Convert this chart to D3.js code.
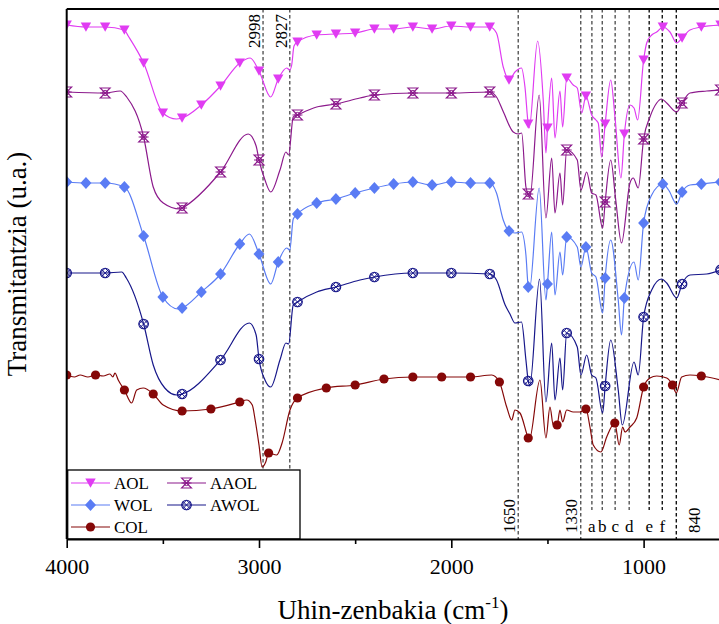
<!DOCTYPE html>
<html>
<head>
<meta charset="utf-8">
<script src="https://cdn.jsdelivr.net/npm/d3@7"></script>
<style>
  body { margin: 0; background: #fff; }
  svg { display: block; }
  svg text { font-family: "Liberation Serif", "Times New Roman", "DejaVu Serif", serif; fill: #000; }
</style>
</head>
<body>
<svg id="chart"></svg>
<script>
// FTIR spectra, [wavenumber (cm-1), transmittance (u.a., offset per sample)]
const aol = [[4000,514],[3900,512],[3800,512],[3700,509],[3680,503],[3600,476],[3500,426],[3430,420],[3400,421],[3300,434],[3200,453],[3100,476],[3046,481],[3000,468],[2939,442],[2900,460],[2856,471],[2840,469],[2830,474],[2818,493],[2800,497],[2700,504],[2600,505],[2500,506],[2400,510],[2300,510],[2200,512],[2100,510],[2000,513],[1900,512],[1800,512],[1765,506],[1730,472],[1700,459],[1669,467],[1635,471],[1617,452],[1600,415],[1595,411],[1551,498],[1522,439],[1508,386],[1500,411],[1478,461],[1461,401],[1435,448],[1421,412],[1400,461],[1366,454],[1345,451],[1322,426],[1300,443],[1270,424],[1248,419],[1236,416],[1218,382],[1200,415],[1171,459],[1149,422],[1118,361],[1100,405],[1071,434],[1050,431],[1031,419],[1000,479],[984,496],[958,504],[932,507],[900,512],[863,507],[828,496],[800,501],[759,509],[700,512],[600,514]];

const aaol = [[4000,447],[3800,446],[3722,448],[3688,442],[3600,402],[3550,352],[3498,336],[3411,330],[3400,331],[3200,367],[3056,405],[3015,393],[3000,379],[2969,359],[2939,347],[2891,369],[2860,387],[2846,384],[2822,422],[2800,424],[2700,432],[2600,435],[2475,441],[2400,444],[2200,446],[2000,446],[1800,447],[1765,442],[1729,427],[1678,407],[1652,405],[1634,406],[1612,352],[1600,345],[1592,341],[1543,444],[1508,321],[1478,381],[1461,326],[1435,366],[1421,334],[1400,389],[1345,379],[1326,349],[1296,367],[1270,346],[1248,344],[1213,311],[1200,337],[1171,379],[1145,339],[1115,296],[1071,356],[1054,361],[1028,351],[1000,400],[967,422],[932,436],[907,440],[880,436],[828,427],[800,436],[759,446],[672,448],[600,449]];

const wol = [[4000,357],[3900,356],[3800,356],[3700,352],[3600,303],[3500,242],[3420,230],[3400,231],[3300,247],[3200,265],[3100,295],[3050,305],[3000,285],[2939,255],[2900,277],[2856,291],[2840,289],[2822,320],[2800,325],[2700,336],[2600,340],[2500,346],[2400,351],[2300,355],[2200,357],[2100,354],[2000,357],[1900,356],[1800,356],[1765,346],[1730,319],[1700,308],[1669,306],[1635,307],[1612,284],[1600,252],[1594,249],[1543,351],[1508,239],[1500,255],[1478,307],[1461,244],[1435,287],[1421,264],[1400,302],[1345,292],[1326,272],[1300,292],[1270,266],[1248,262],[1213,226],[1200,261],[1171,299],[1132,239],[1115,204],[1100,241],[1050,277],[1028,259],[1000,316],[958,344],[900,355],[870,349],[828,335],[800,347],[759,354],[700,355],[600,357]];

const awol = [[4000,266],[3800,266],[3714,267],[3690,261],[3600,215],[3550,174],[3490,151],[3428,144],[3400,145],[3200,179],[3050,216],[3015,204],[3000,180],[2969,159],[2939,152],[2891,179],[2860,196],[2846,195],[2822,234],[2800,237],[2700,247],[2600,252],[2475,259],[2400,262],[2200,266],[2000,266],[1800,265],[1765,259],[1720,234],[1695,225],[1669,216],[1635,217],[1612,179],[1600,158],[1592,153],[1541,260],[1508,137],[1478,196],[1461,139],[1435,181],[1421,149],[1400,206],[1345,192],[1326,164],[1296,184],[1270,164],[1248,161],[1213,126],[1200,153],[1171,199],[1132,149],[1111,114],[1050,177],[1028,164],[1000,222],[958,249],[907,260],[880,256],[828,241],[800,255],[759,264],[672,265],[600,269]];

const col = [[4000,164],[3960,162],[3930,164],[3890,162],[3850,164],[3810,163],[3775,165],[3760,162],[3749,166],[3732,159],[3700,149],[3662,136],[3636,149],[3602,151],[3550,145],[3498,134],[3400,128],[3250,130],[3100,137],[3064,139],[3035,134],[3020,119],[3000,94],[2984,72],[2965,77],[2950,86],[2908,84],[2880,96],[2839,129],[2800,141],[2650,151],[2500,154],[2350,160],[2200,162],[2050,162],[1900,162],[1790,164],[1750,157],[1712,132],[1686,119],[1669,129],[1643,126],[1600,101],[1595,99],[1539,159],[1508,101],[1487,132],[1470,114],[1450,114],[1435,129],[1421,117],[1400,129],[1366,127],[1331,127],[1300,130],[1279,112],[1262,94],[1222,87],[1192,102],[1150,116],[1127,94],[1109,112],[1097,107],[1071,112],[1036,121],[1000,152],[967,161],[932,163],[880,161],[850,154],[830,146],[802,162],[759,164],[700,163],[600,159]];

// marked bands (position in cm-1 as drawn) and their labels
const bandWaves = [2979, 2840, 1652, 1327, 1269, 1215, 1148, 1075, 971, 903, 830];
const bandLabels = ["2998", "2827", "1650", "1330", "a", "b", "c", "d", "e", "f", "840"];

const majorTicks = [4000, 3000, 2000, 1000];
const minorTicks = [3500, 2500, 1500, 500];

const series = [
  { name: "AOL",  data: aol,  color: "#E03CF2", symbol: "tri",       every: 100 },
  { name: "AAOL", data: aaol, color: "#8C1A8C", symbol: "hourglass", every: 200 },
  { name: "WOL",  data: wol,  color: "#5A7CF4", symbol: "diamond",   every: 100 },
  { name: "AWOL", data: awol, color: "#17178A", symbol: "xcircle",   every: 200 },
  { name: "COL",  data: col,  color: "#850808", symbol: "circle",    every: 150 }
];

const width = 719, height = 624;
const plotLeft = 66.7, plotTop = 9, plotBottom = 539, plotRight = 759;
const serif = "'Liberation Serif', 'Times New Roman', serif";

const svg = d3.select("#chart").attr("width", width).attr("height", height)
  .attr("font-family", serif);

const x = d3.scaleLinear().domain([4000, 400]).range([plotLeft, plotRight]);
const y = d3.scaleLinear().domain([0, 530]).range([plotBottom, plotTop]);

svg.append("clipPath").attr("id", "plot-clip")
  .append("rect").attr("x", plotLeft).attr("y", plotTop)
  .attr("width", plotRight - plotLeft).attr("height", plotBottom - plotTop);

// dashed band markers
const bands = svg.append("g").attr("clip-path", "url(#plot-clip)");
bandWaves.forEach((w, i) => {
  const lab = bandLabels[i];
  const isLetter = /^[a-f]$/.test(lab);
  const dark = ["e", "f", "840"].includes(lab);
  bands.append("line")
    .attr("x1", x(w)).attr("x2", x(w))
    .attr("y1", plotTop).attr("y2", isLetter ? 510 : plotBottom)
    .attr("stroke", dark ? "#111" : "#555")
    .attr("stroke-width", 1.4)
    .attr("stroke-dasharray", "3.5,2.5");
});

// spectra
const line = d3.line().x(d => x(d[0])).y(d => y(d[1])).curve(d3.curveMonotoneX);
const plot = svg.append("g").attr("clip-path", "url(#plot-clip)");

function drawSymbol(g, type, color) {
  if (type === "tri") {
    g.append("path").attr("d", "M-5.2,-4.5L5.2,-4.5L0,4.8Z").attr("fill", color);
  } else if (type === "diamond") {
    g.append("path").attr("d", "M0,-6L5.5,0L0,6L-5.5,0Z").attr("fill", color);
  } else if (type === "circle") {
    g.append("circle").attr("r", 4.6).attr("fill", color);
  } else if (type === "hourglass") {
    g.append("path").attr("d", "M-5,-5L5,-5L-5,5L5,5Z M-5,0L5,0")
      .attr("fill", "none").attr("stroke", color).attr("stroke-width", 1.1);
    g.append("circle").attr("r", 2.6).attr("fill", "none").attr("stroke", color).attr("stroke-width", 1);
  } else if (type === "xcircle") {
    g.append("circle").attr("r", 4.8).attr("fill", "none").attr("stroke", color).attr("stroke-width", 1.1);
    g.append("path").attr("d", "M-3.4,-3.4L3.4,3.4M3.4,-3.4L-3.4,3.4M0,-4.8L4.8,0L0,4.8L-4.8,0Z")
      .attr("fill", "none").attr("stroke", color).attr("stroke-width", 1);
  }
}

series.forEach(s => {
  plot.append("path")
    .datum(s.data)
    .attr("d", line)
    .attr("fill", "none")
    .attr("stroke", s.color)
    .attr("stroke-width", 1.2)
    .attr("stroke-linejoin", "round");

  s.data.filter(d => (4000 - d[0]) % s.every === 0).forEach(d => {
    const g = plot.append("g").attr("transform", `translate(${x(d[0])},${y(d[1])})`);
    drawSymbol(g, s.symbol, s.color);
  });
});

// band labels
bandWaves.forEach((w, i) => {
  const lab = bandLabels[i];
  if (/^[a-f]$/.test(lab)) {
    svg.append("text").attr("x", x(w)).attr("y", 532)
      .attr("text-anchor", "middle").style("font-size", "17px").text(lab);
  } else if (i < 2) {
    svg.append("text")
      .attr("transform", `translate(${x(w) - 3},14) rotate(-90)`)
      .attr("text-anchor", "end").style("font-size", "17px").text(lab);
  } else {
    const bx = lab === "840" ? x(w) + 24 : x(w) - 3.5;
    svg.append("text")
      .attr("transform", `translate(${bx},533) rotate(-90)`)
      .attr("text-anchor", "start").style("font-size", "17px").text(lab);
  }
});

// legend
const legend = svg.append("g");
legend.append("rect")
  .attr("x", 67.7).attr("y", 470).attr("width", 232.3).attr("height", 69)
  .attr("fill", "#fff").attr("stroke", "#000").attr("stroke-width", 1.3);
const legendPos = [[0, 0], [1, 0], [0, 1], [1, 1], [0, 2]];
series.forEach((s, i) => {
  const [c, r] = legendPos[i];
  const lx = 71 + c * 96, ly = 483 + r * 22;
  const g = legend.append("g");
  g.append("line").attr("x1", lx).attr("x2", lx + 39).attr("y1", ly).attr("y2", ly)
    .attr("stroke", s.color).attr("stroke-width", 1.2);
  drawSymbol(g.append("g").attr("transform", `translate(${lx + 19.5},${ly})`), s.symbol, s.color);
  g.append("text").attr("x", lx + 43).attr("y", ly + 6).style("font-size", "17px").text(s.name);
});

// axes and frame
const xAxis = svg.append("g").attr("transform", `translate(0,${plotBottom})`)
  .call(d3.axisBottom(x).tickValues(majorTicks).tickSize(9).tickSizeOuter(0)
    .tickPadding(10).tickFormat(d3.format("d")));
xAxis.attr("font-family", serif);
xAxis.select(".domain").attr("stroke-width", 2);
xAxis.selectAll(".tick line").attr("stroke-width", 1.6);
xAxis.selectAll(".tick text").style("font-size", "22px");

const xMinor = svg.append("g").attr("transform", `translate(0,${plotBottom})`)
  .call(d3.axisBottom(x).tickValues(minorTicks).tickSize(5).tickFormat(""));
xMinor.select(".domain").remove();
xMinor.selectAll(".tick line").attr("stroke-width", 1.6);

svg.append("line").attr("x1", plotLeft).attr("x2", plotLeft).attr("y1", plotTop).attr("y2", plotBottom)
  .attr("stroke", "#000").attr("stroke-width", 2);
svg.append("line").attr("x1", plotLeft).attr("x2", plotRight).attr("y1", plotTop).attr("y2", plotTop)
  .attr("stroke", "#000").attr("stroke-width", 2);

// axis titles
svg.append("text")
  .attr("transform", "translate(26,264) rotate(-90)")
  .attr("text-anchor", "middle").style("font-size", "27px")
  .text("Transmitantzia (u.a.)");

const xt = svg.append("text").attr("x", 393).attr("y", 619)
  .attr("text-anchor", "middle").style("font-size", "27px");
xt.append("tspan").text("Uhin-zenbakia (cm");
xt.append("tspan").attr("dy", -11).style("font-size", "17px").text("-1");
xt.append("tspan").attr("dy", 11).text(")");
</script>
</body>
</html>
